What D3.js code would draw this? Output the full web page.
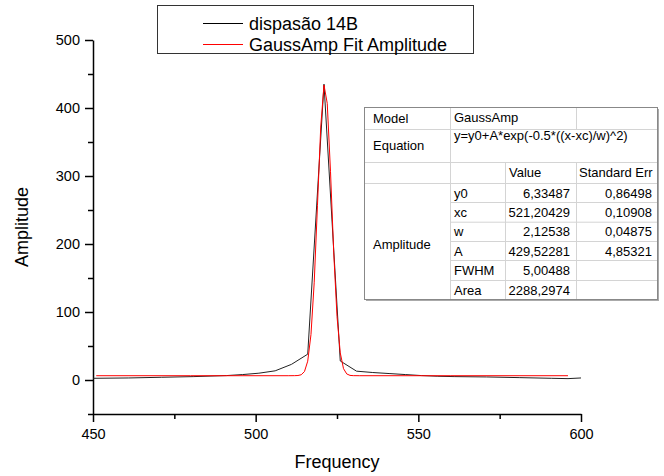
<!DOCTYPE html>
<html>
<head>
<meta charset="utf-8">
<script src="https://cdn.jsdelivr.net/npm/d3@7"></script>
<style>
  body { margin: 0; background: #fff; }
  svg { font-family: "Liberation Sans", Arial, sans-serif; }
  .axis path, .axis line { stroke: #000; stroke-width: 1.5; }
  .axis text { font-size: 14.5px; fill: #000; }
</style>
</head>
<body>
<svg width="664" height="476"></svg>
<script>
// measured series (dispasão 14B)
var dataFreq = [450, 461, 471, 481, 491, 496, 501, 506, 511, 516, 521, 526, 531, 536, 541, 546, 551, 556, 561, 571, 581, 591, 596, 600];
var dataAmp  = [2.5, 3, 4, 5, 6.5, 8, 10, 13.5, 23, 38, 435, 28, 13, 11, 9.5, 8, 6.5, 5.5, 5, 4.5, 3.5, 2.5, 2, 3];

// fitted curve (GaussAmp Fit Amplitude)
var fitFreq = [451, 480, 510, 512, 513, 514, 515, 516, 517, 518, 519, 520, 521, 522, 523, 524, 525, 526, 527, 528, 529, 530, 532, 560, 596];
var fitAmp  = [6.3, 6.3, 6.3, 6.4, 6.6, 7.7, 12.4, 27.7, 66.8, 143.8, 257, 372, 433.8, 406.8, 307, 187, 93.5, 39.9, 16.7, 8.9, 6.8, 6.4, 6.3, 6.3, 6.3];

var legendLabels = ["dispasão 14B", "GaussAmp Fit Amplitude"];
var legendColors = ["#000000", "#ff0000"];

var xTicks = [450, 500, 550, 600];
var yTicks = [0, 100, 200, 300, 400, 500];

// fit report table
var tableModel = ["Model", "GaussAmp"];
var tableEquation = ["Equation", "y=y0+A*exp(-0.5*((x-xc)/w)^2)"];
var tableHeader = ["Value", "Standard Err"];
var tableBlock = "Amplitude";
var paramNames = ["y0", "xc", "w", "A", "FWHM", "Area"];
var paramValues = ["6,33487", "521,20429", "2,12538", "429,52281", "5,00488", "2288,2974"];
var paramErrors = ["0,86498", "0,10908", "0,04875", "4,85321", "", ""];

var svg = d3.select("svg");

var x = d3.scaleLinear().domain([450, 600]).range([93, 581]);
var y = d3.scaleLinear().domain([-50, 500]).range([414, 40]);

// minor ticks
svg.append("g").attr("class", "axis")
  .attr("transform", "translate(0,414)")
  .call(d3.axisBottom(x).tickValues([475, 525, 575]).tickSize(5).tickFormat(""))
  .select(".domain").remove();
svg.append("g").attr("class", "axis")
  .attr("transform", "translate(93,0)")
  .call(d3.axisLeft(y).tickValues([-50, 50, 150, 250, 350, 450]).tickSize(5).tickFormat(""))
  .select(".domain").remove();

// major ticks
svg.append("g").attr("class", "axis")
  .attr("transform", "translate(0,414)")
  .call(d3.axisBottom(x).tickValues(xTicks).tickSize(8).tickSizeOuter(0).tickPadding(7));
svg.append("g").attr("class", "axis")
  .attr("transform", "translate(93,0)")
  .call(d3.axisLeft(y).tickValues(yTicks).tickSize(8).tickSizeOuter(0).tickPadding(5));

// axis titles
svg.append("text")
  .attr("x", 337).attr("y", 468)
  .attr("text-anchor", "middle")
  .style("font-size", "18px")
  .text("Frequency");
svg.append("text")
  .attr("transform", "translate(28,227) rotate(-90)")
  .attr("text-anchor", "middle")
  .style("font-size", "18px")
  .text("Amplitude");

// lines
var line = d3.line()
  .x(function(d) { return x(d[0]); })
  .y(function(d) { return y(d[1]); });

var fitPts = fitFreq.map(function(f, i) { return [f, fitAmp[i]]; });
var dataPts = dataFreq.map(function(f, i) { return [f, dataAmp[i]]; });

svg.append("path")
  .datum(dataPts)
  .attr("d", line)
  .attr("fill", "none")
  .attr("stroke", "#222")
  .attr("stroke-width", 1);

svg.append("path")
  .datum(fitPts)
  .attr("d", line)
  .attr("fill", "none")
  .attr("stroke", "#ff0000")
  .attr("stroke-width", 1);

// legend
var legend = svg.append("g");
legend.append("rect")
  .attr("x", 157.5).attr("y", 5.5)
  .attr("width", 316).attr("height", 48)
  .attr("fill", "#fff")
  .attr("stroke", "#333")
  .attr("stroke-width", 1);

var legendRows = legend.selectAll(".row")
  .data(legendLabels)
  .enter().append("g")
  .attr("transform", function(d, i) { return "translate(0," + (23.5 + i * 21) + ")"; });
legendRows.append("line")
  .attr("x1", 203).attr("x2", 243)
  .attr("stroke", function(d, i) { return legendColors[i]; })
  .attr("stroke-width", 1);
legendRows.append("text")
  .attr("x", 249).attr("y", 6)
  .style("font-size", "18px")
  .text(function(d) { return d; });

// fit report table
var t = svg.append("g").style("font-size", "13px");
var colX = [364, 450, 505, 576, 657];
var rowY = [107, 129, 162, 183, 202, 221.7, 241, 260, 280, 299];

// shadow
t.append("rect").attr("x", colX[0] + 2).attr("y", rowY[0] + 2)
  .attr("width", colX[4] - colX[0]).attr("height", rowY[9] - rowY[0])
  .attr("fill", "#aaa");
t.append("rect").attr("x", colX[0]).attr("y", rowY[0])
  .attr("width", colX[4] - colX[0]).attr("height", rowY[9] - rowY[0])
  .attr("fill", "#fff");

var grid = "#d4d4d4";
// horizontal lines
[1, 2, 3].forEach(function(r) {
  t.append("line").attr("x1", colX[0]).attr("x2", colX[4])
    .attr("y1", rowY[r] + 0.5).attr("y2", rowY[r] + 0.5).attr("stroke", grid);
});
d3.range(4, 9).forEach(function(r) {
  t.append("line").attr("x1", colX[1]).attr("x2", colX[4])
    .attr("y1", rowY[r] + 0.5).attr("y2", rowY[r] + 0.5).attr("stroke", grid);
});
// vertical lines
t.append("line").attr("x1", colX[1] + 0.5).attr("x2", colX[1] + 0.5)
  .attr("y1", rowY[0]).attr("y2", rowY[9]).attr("stroke", grid);
t.append("line").attr("x1", colX[3] + 0.5).attr("x2", colX[3] + 0.5)
  .attr("y1", rowY[0]).attr("y2", rowY[1]).attr("stroke", grid);
[2, 3].forEach(function(c) {
  t.append("line").attr("x1", colX[c] + 0.5).attr("x2", colX[c] + 0.5)
    .attr("y1", rowY[2]).attr("y2", rowY[9]).attr("stroke", grid);
});
t.append("rect").attr("x", colX[0] + 0.5).attr("y", rowY[0] + 0.5)
  .attr("width", colX[4] - colX[0]).attr("height", rowY[9] - rowY[0])
  .attr("fill", "none").attr("stroke", "#888");

function cell(txt, xx, yy, anchor) {
  t.append("text").attr("x", xx).attr("y", yy)
    .attr("text-anchor", anchor || "start").text(txt);
}
cell(tableModel[0], 373, 123);
cell(tableModel[1], 454, 122);
cell(tableEquation[0], 373, 150);
cell(tableEquation[1], 454, 140);
cell(tableHeader[0], 509, 177);
cell(tableHeader[1], 579, 177);
cell(tableBlock, 373, 249);
paramNames.forEach(function(p, i) {
  var by = rowY[i + 3] + 14.5;
  cell(p, 454, by);
  cell(paramValues[i], 570, by, "end");
  if (paramErrors[i]) cell(paramErrors[i], 652, by, "end");
});
</script>
</body>
</html>
